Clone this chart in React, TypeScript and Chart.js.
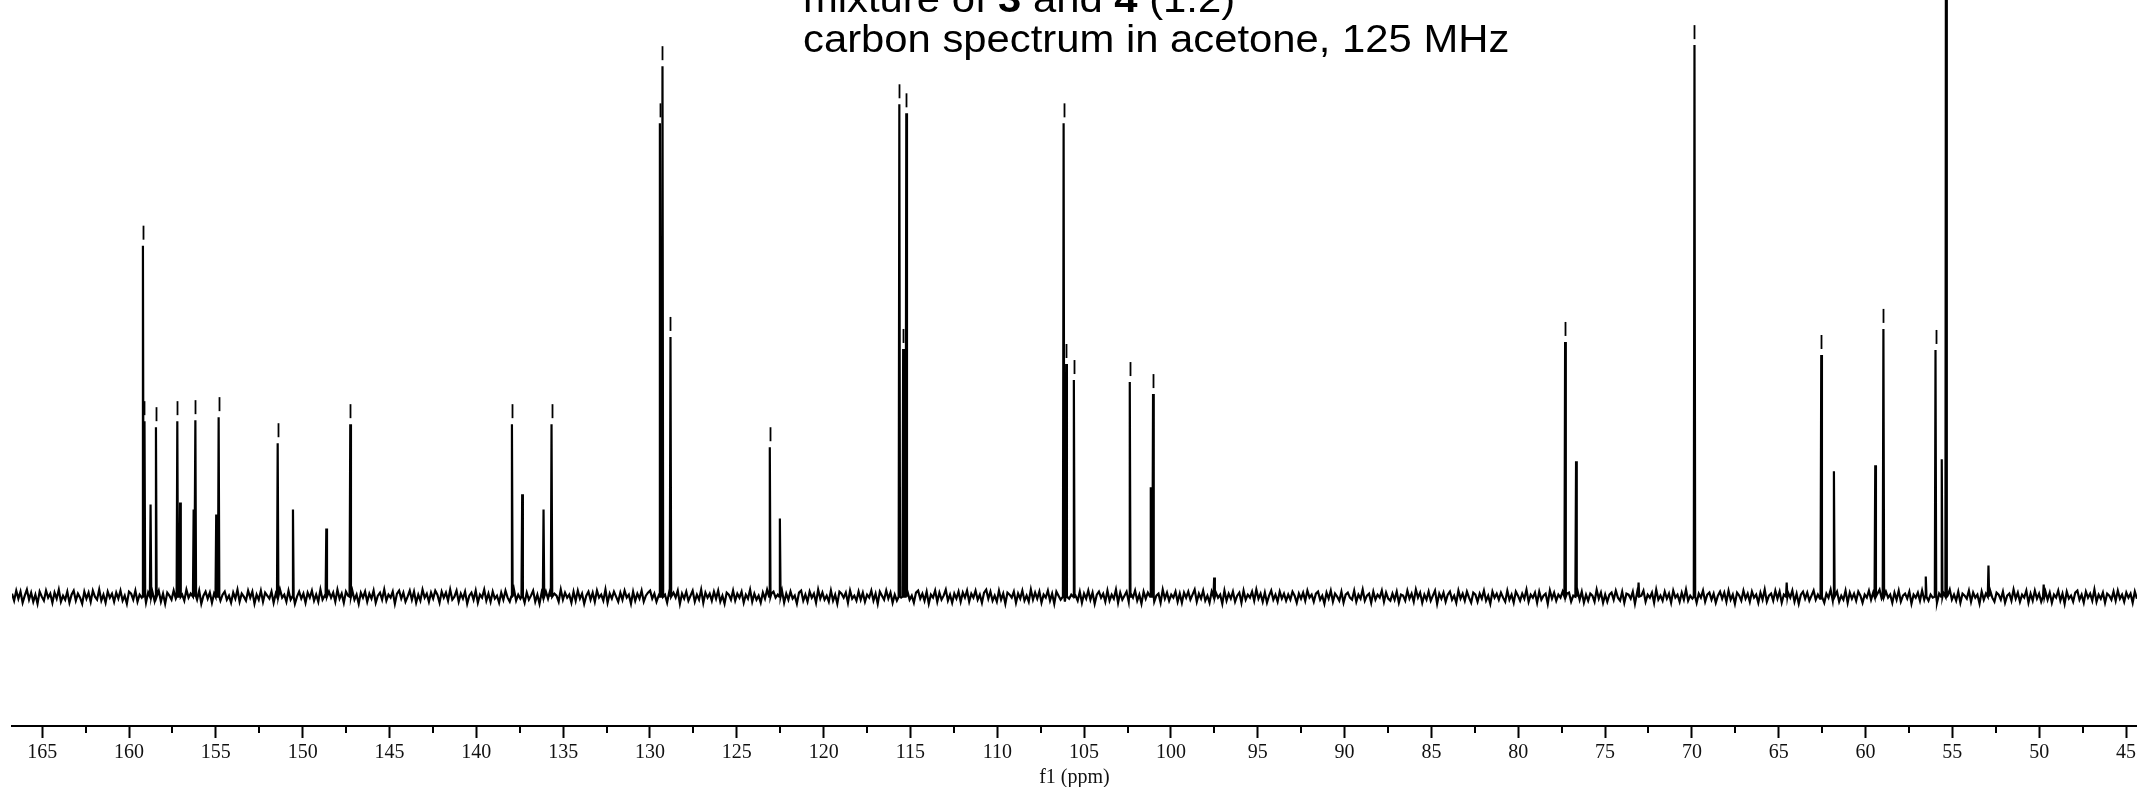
import React, { useEffect, useRef } from 'react';
import { Chart, registerables } from 'chart.js';

Chart.register(...registerables);

// ---- text ----
const TITLE_LINE_1 = [
  { text: 'mixture of ', bold: false },
  { text: '3', bold: true },
  { text: ' and ', bold: false },
  { text: '4', bold: true },
  { text: ' (1:2)', bold: false },
];
const TITLE_LINE_2 = 'carbon spectrum in acetone, 125 MHz';
const AXIS_TITLE = 'f1 (ppm)';

// ---- axis ----
const X_MIN = 44.37;
const X_MAX = 166.74;
const Y_MIN = -129;
const Y_MAX = 595;
const TICK_STEP = 2.5;
const LABEL_STEP = 5;

// ---- peaks (ppm, height above baseline, picked-peak marker) ----
const peakPpm = [
  159.2, 159.11, 158.76, 158.45, 157.22, 157.06, 156.28, 156.18, 154.98, 154.84,
  151.44, 150.56, 148.64, 147.26, 137.95, 137.36, 136.13, 135.67, 129.43, 129.28,
  128.82, 123.1, 122.52, 115.64, 115.42, 115.24, 106.18, 106.03, 105.59, 102.37,
  101.16, 101.03, 97.51, 77.3, 76.67, 73.07, 69.85, 64.54, 62.55, 61.82,
  59.44, 58.97, 56.53, 55.97, 55.61, 55.36, 52.92, 49.74,
];
const peakHeight = [
  350, 175, 92, 169, 175, 94, 87, 176, 82, 179,
  153, 87, 68, 172, 172, 102, 87, 172, 472, 529,
  259, 149, 78, 491, 247, 482, 472, 232, 216, 214,
  109, 202, 19, 254, 135, 14, 550, 14, 241, 125,
  131, 267, 20, 246, 137, 900, 31, 12,
];
const peakPicked = [
  1, 1, 0, 1, 1, 0, 0, 1, 0, 1,
  1, 0, 0, 1, 1, 0, 0, 1, 1, 1,
  1, 1, 0, 1, 1, 1, 1, 1, 1, 1,
  0, 1, 0, 1, 0, 0, 1, 0, 1, 0,
  0, 1, 0, 1, 0, 0, 0, 0,
];
const PEAK_HALF_WIDTH = 0.04;

// ---- baseline noise, sampled evenly from X_MAX down to X_MIN ----
const noise = [
  3,-4,6,-2,5,-6,1,7,-3,4,-5,2,-7,5,0,-4,6,-1,3,-6,4,-2,7,-5,1,-3,5,-6,2,6,-4,3,-1,-7,5,-2,4,-5,6,0,-3,7,-4,2,-6,5,-1,3,-5,4,
  -2,6,-4,1,-7,5,3,-3,6,-5,2,-1,7,-6,4,-2,5,-4,0,6,-5,3,-7,4,1,-3,6,-2,5,-6,2,-4,7,-1,3,-5,4,-3,6,-7,1,5,-2,4,-6,3,-1,7,-4,2,
  5,-3,1,-6,4,-2,7,-5,3,0,-4,6,-1,5,-7,2,-3,6,-5,4,1,-2,5,-6,3,-4,7,-1,2,-5,6,-3,4,-7,0,5,-2,3,-6,4,-1,6,-4,2,-5,7,-3,1,-6,5,
  -1,4,-5,7,-2,3,-6,5,1,-4,6,-3,2,-7,4,-1,5,-5,3,-2,6,-6,1,4,-3,7,-4,2,-1,5,-7,3,6,-2,4,-5,0,6,-3,5,-6,2,-4,7,-1,3,-5,4,-2,6,
  2,-6,5,-1,4,-4,7,-3,0,6,-5,3,-2,5,-7,1,4,-3,6,-6,2,-1,7,-4,3,-5,5,-2,1,-6,4,-3,6,-1,-5,3,7,-4,2,-2,5,-6,4,-3,1,6,-5,2,-7,4,
  -4,5,-2,6,-6,3,1,-5,7,-3,4,-1,2,-6,5,-4,6,-2,3,-7,1,5,-3,4,-5,6,-1,2,-4,7,-6,3,-2,5,0,-5,4,-3,6,-1,2,-7,5,-4,3,-2,6,-5,1,4,
  6,-2,3,-5,1,7,-4,2,-6,5,-3,4,-1,6,-7,3,-2,5,-4,1,6,-5,2,-3,7,-6,4,-1,3,-4,5,-2,6,-5,1,-7,4,2,-3,6,-4,3,-1,5,-6,2,-2,7,-5,3,
  -3,1,-6,4,-2,7,-5,3,5,-1,2,-4,6,-6,3,-3,5,-2,1,-7,4,6,-4,2,-5,5,-1,3,-6,7,-2,4,-3,1,-5,6,-4,2,-7,5,3,-1,4,-6,6,-2,1,-4,5,-3,
  4,-5,2,-1,6,-4,3,-7,5,1,-3,6,-2,4,-6,2,-4,7,-1,3,-5,5,-3,1,-6,4,6,-2,3,-4,5,-7,2,-1,6,-5,4,-3,1,7,-4,2,-6,3,-2,5,-5,4,-1,6,
  -5,3,-1,6,-3,2,-6,4,7,-2,5,-4,1,-5,6,-3,3,-7,4,2,-1,5,-6,3,-2,6,-4,1,-5,7,-3,4,-2,5,-6,2,-1,6,-4,3,-7,5,1,-3,4,-5,6,-2,2,-4,
  1,-4,5,-6,3,-2,6,-3,4,-7,2,5,-1,3,-5,6,-4,2,-2,7,-6,4,-3,1,5,-5,3,-1,6,-4,2,-7,5,-2,4,-3,6,-5,1,3,-6,7,-2,4,-4,2,-1,5,-5,3,
  -6,4,-1,5,-3,2,7,-5,3,-2,6,-4,1,-6,5,-3,4,-1,2,-7,6,-4,3,-2,5,-5,1,4,-6,6,-3,2,-1,5,-4,7,-2,3,-5,4,-6,1,6,-3,2,-5,5,-2,3,-4,
  2,-3,5,1,-6,3,-2,4,-4,6,-1,2,-5,3,5,-3,1,-7,4,-2,6,-5,3,0,-4,5,-6,2,4,-1,-3,6,-5,2,-2,7,-4,1,3,-6,5,-3,2,-1,6,-5,4,-2,-4,3,
  -3,5,-6,2,1,-4,6,-2,3,-5,7,-1,4,-6,2,-3,5,-4,1,6,-7,3,-2,4,-5,2,5,-3,1,-6,6,-2,3,-4,5,-1,-6,4,2,-5,3,-2,6,-4,1,-7,5,-1,3,-3,
  4,-1,-5,6,-3,2,-6,5,1,-4,3,-2,7,-5,2,-1,4,-6,5,-3,1,3,-7,6,-2,4,-4,2,-1,5,-6,3,4,-5,1,-2,6,-3,5,-6,2,-4,3,1,-5,7,-2,4,-6,2,
  -5,2,4,-3,6,-1,-4,5,-6,3,2,-2,5,-7,4,-3,1,6,-5,2,-1,4,-6,7,-3,1,-4,5,-2,3,-6,6,-1,2,-5,4,-3,7,-4,1,-2,5,-6,3,-1,6,-5,2,4,-3,
  3,-6,1,5,-2,4,-5,6,-3,2,-7,4,1,-4,6,-2,3,-5,5,-1,2,-6,4,-3,7,-5,1,3,-4,6,-2,5,-6,2,-3,4,-1,6,-5,3,-7,2,5,-2,4,-4,1,6,-3,2,
  -2,4,-6,3,-1,7,-4,2,5,-5,1,-3,6,-6,4,-2,3,-4,5,1,-6,2,-1,6,-3,4,-5,3,7,-2,-4,5,-1,2,-6,4,-3,6,-5,1,3,-2,5,-7,2,-1,4,-4,6,-3,
  5,-4,2,-1,6,-6,3,-2,4,-5,1,7,-3,2,-4,5,-6,3,1,-2,6,-5,4,-1,2,-7,5,-3,3,-4,6,-1,-5,4,2,-3,5,-6,1,3,-4,7,-2,4,-5,2,-1,6,-6,3,
  -4,6,-2,3,-5,1,5,-3,4,-6,2,-1,6,-4,3,-7,5,-2,1,-5,4,6,-3,2,-6,5,-1,3,-4,7,-5,2,-2,4,-6,3,1,-3,5,-4,6,-2,2,-5,4,-1,3,-6,5,-2,
];

function buildSpectrum() {
  const step = (X_MAX - X_MIN) / (noise.length - 1);
  const pts: { x: number; y: number }[] = [];
  noise.forEach((v, i) => {
    const x = X_MAX - i * step;
    const nearPeak = peakPpm.some((p) => Math.abs(p - x) <= PEAK_HALF_WIDTH * 1.5);
    if (!nearPeak) pts.push({ x, y: v });
  });
  peakPpm.forEach((p, i) => {
    pts.push({ x: p + PEAK_HALF_WIDTH, y: 0 });
    pts.push({ x: p, y: peakHeight[i] });
    pts.push({ x: p - PEAK_HALF_WIDTH, y: 0 });
  });
  pts.sort((a, b) => b.x - a.x);
  return pts;
}

const isMajor = (v: number) => Math.abs(v / LABEL_STEP - Math.round(v / LABEL_STEP)) < 1e-6;

const markerPlugin = {
  id: 'peakMarkers',
  afterDatasetsDraw(chart: any) {
    const { ctx, scales } = chart;
    const xs = scales.x;
    const ys = scales.y;
    ctx.save();
    ctx.strokeStyle = '#000';
    ctx.lineWidth = 1.8;
    peakPpm.forEach((p, i) => {
      if (!peakPicked[i]) return;
      const px = Math.round(xs.getPixelForValue(p)) + 0.5;
      const py = ys.getPixelForValue(peakHeight[i]);
      ctx.beginPath();
      ctx.moveTo(px, py - 6);
      ctx.lineTo(px, py - 20);
      ctx.stroke();
    });
    ctx.restore();
  },
};

const minorTickPlugin = {
  id: 'minorTicks',
  afterDraw(chart: any) {
    const { ctx, scales, chartArea } = chart;
    const xs = scales.x;
    ctx.save();
    ctx.strokeStyle = '#000';
    ctx.lineWidth = 2;
    xs.ticks.forEach((t: any) => {
      if (isMajor(t.value)) return;
      const px = Math.round(xs.getPixelForValue(t.value));
      ctx.beginPath();
      ctx.moveTo(px, chartArea.bottom);
      ctx.lineTo(px, chartArea.bottom + 7);
      ctx.stroke();
    });
    ctx.restore();
  },
};

const titlePlugin = {
  id: 'spectrumTitle',
  afterDraw(chart: any) {
    const { ctx } = chart;
    const size = 38;
    const stretch = 1.1;
    ctx.save();
    ctx.fillStyle = '#000';
    ctx.textBaseline = 'alphabetic';
    ctx.translate(803, 0);
    ctx.scale(stretch, 1);
    let x = 0;
    TITLE_LINE_1.forEach((seg) => {
      ctx.font = `${seg.bold ? 'bold ' : ''}${size}px "Liberation Sans", Arial, sans-serif`;
      ctx.fillText(seg.text, x, 12);
      x += ctx.measureText(seg.text).width;
    });
    ctx.font = `${size}px "Liberation Sans", Arial, sans-serif`;
    ctx.fillText(TITLE_LINE_2, 0, 52);
    ctx.restore();
  },
};

export default function App() {
  const canvasRef = useRef<HTMLCanvasElement | null>(null);

  useEffect(() => {
    document.body.style.margin = '0';
    const canvas = canvasRef.current;
    if (!canvas) return;
    const chart = new Chart(canvas, {
      type: 'line',
      data: {
        datasets: [
          {
            data: buildSpectrum(),
            borderColor: '#000',
            borderWidth: 2.2,
            pointRadius: 0,
            tension: 0,
            fill: false,
          },
        ],
      },
      options: {
        responsive: false,
        animation: false,
        parsing: false,
        normalized: true,
        layout: { padding: { left: 12, right: 0, top: 0, bottom: 0 } },
        plugins: {
          legend: { display: false },
          title: { display: false },
          tooltip: { enabled: false },
        },
        scales: {
          x: {
            type: 'linear',
            reverse: true,
            min: X_MIN,
            max: X_MAX,
            border: { display: true, color: '#000', width: 2 },
            grid: {
              drawOnChartArea: false,
              drawTicks: true,
              tickLength: 12,
              tickWidth: 2,
              tickColor: (c: any) => (c.tick && isMajor(c.tick.value) ? '#000' : 'rgba(0,0,0,0)'),
            },
            ticks: {
              stepSize: TICK_STEP,
              includeBounds: false,
              autoSkip: false,
              maxRotation: 0,
              padding: 5,
              color: '#111',
              font: { family: '"Liberation Serif", "DejaVu Serif", serif', size: 20, lineHeight: 1.0 },
              callback: (v: any) => (isMajor(Number(v)) ? String(Math.round(Number(v))) : ''),
            },
            title: {
              display: true,
              text: AXIS_TITLE,
              color: '#111',
              padding: { top: 0, bottom: 0 },
              font: { family: '"Liberation Serif", "DejaVu Serif", serif', size: 20, lineHeight: 0.95 },
            },
          },
          y: {
            type: 'linear',
            display: false,
            min: Y_MIN,
            max: Y_MAX,
          },
        },
      },
      plugins: [markerPlugin, minorTickPlugin, titlePlugin],
    });
    return () => chart.destroy();
  }, []);

  return (
    <div style={{ width: 2141, height: 787, background: '#fff' }}>
      <canvas ref={canvasRef} width={2141} height={787} style={{ display: 'block' }} />
    </div>
  );
}
